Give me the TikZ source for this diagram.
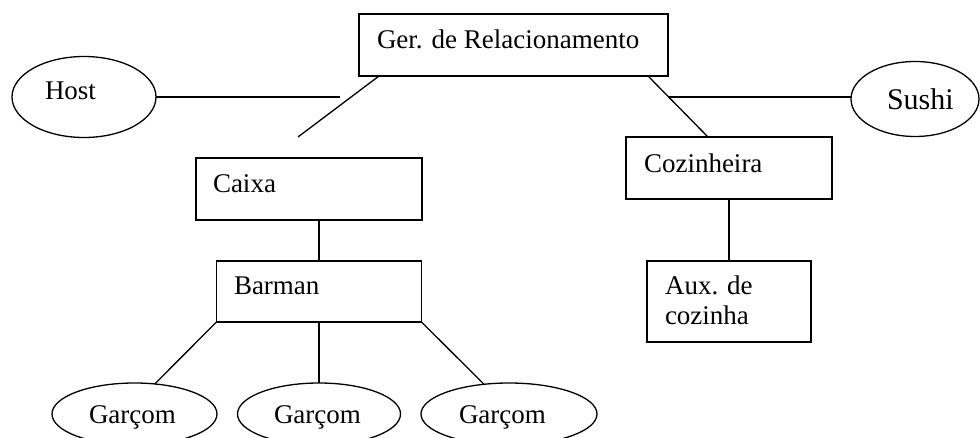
\documentclass[tikz,border=0pt]{standalone}
\usepackage{fontspec}
\setmainfont{Liberation Serif}
\usetikzlibrary{shapes.geometric,calc}
\begin{document}
\begin{tikzpicture}[x=1pt,y=-1pt,
  every node/.style={inner sep=0pt,outer sep=0pt},
  boxnode/.style={draw,line width=1.5pt,rectangle},
  ellnode/.style={draw,line width=1.3pt,ellipse},
  txt/.style={anchor=base west,font=\fontsize{27}{29}\selectfont},
  bigtxt/.style={anchor=base west,font=\fontsize{30}{32}\selectfont},
  conn/.style={line width=1.3pt}]
\useasboundingbox (0,0) rectangle (980,438);
% boxes
\node[boxnode,minimum width=309pt,minimum height=62pt] (ger) at (513.5,45) {};
\node[boxnode,minimum width=226pt,minimum height=62pt] (caixa) at (309,189) {};
\node[boxnode,minimum width=205pt,minimum height=61pt] (barman) at (319,291.5) {};
\node[boxnode,minimum width=206pt,minimum height=62pt] (coz) at (729,168) {};
\node[boxnode,minimum width=164pt,minimum height=81pt] (aux) at (729,301.5) {};
% ellipses
\node[ellnode,minimum width=144pt,minimum height=81pt] (host) at (84,97) {};
\node[ellnode,minimum width=128pt,minimum height=75pt] (sushi) at (915,99) {};
\node[ellnode,minimum width=165pt,minimum height=62pt] (g1) at (134.5,414) {};
\node[ellnode,minimum width=163pt,minimum height=62pt] (g2) at (319,414) {};
\node[ellnode,minimum width=176pt,minimum height=62pt] (g3) at (509,414) {};
% texts
\node[txt] (tger) at (377,49) {Ger. de Relacionamento};
\node[txt] (thost) at (45,100) {Host};
\node[bigtxt] (tsushi) at (887,110) {Sushi};
\node[txt] (tcaixa) at (213,193) {Caixa};
\node[txt] (tbarman) at (234,295) {Barman};
\node[txt] (tcoz) at (644,173) {Cozinheira};
\node[txt] (taux1) at (665,295) {Aux. de};
\node[txt] (taux2) at (665,324) {cozinha};
\node[txt] (tg1) at (89,423) {Garçom};
\node[txt] (tg2) at (274,423) {Garçom};
\node[txt] (tg3) at (459,423) {Garçom};
% free ends
\coordinate (hostend) at (340,97);
\coordinate (leftend) at (298,137);
\coordinate (sushistart) at (668,97);
% connectors
\draw[conn] (host.east) -- (hostend);
\draw[conn] ($(ger.south west)+(20,0)$) -- (leftend);
\draw[conn] ($(ger.south east)+(-20,0)$) -- ($(coz.north west)+(82,0)$);
\draw[conn] (sushistart) -- (sushistart -| sushi.west);
\draw[conn] (barman.north) -- (barman.north |- caixa.south);
\draw[conn] (coz.south) -- (aux.north);
\draw[conn] (barman.south west) -- (g1.56);
\draw[conn] (barman.south) -- (g2.north);
\draw[conn] (barman.south east) -- (g3.130);
\end{tikzpicture}
\end{document}
